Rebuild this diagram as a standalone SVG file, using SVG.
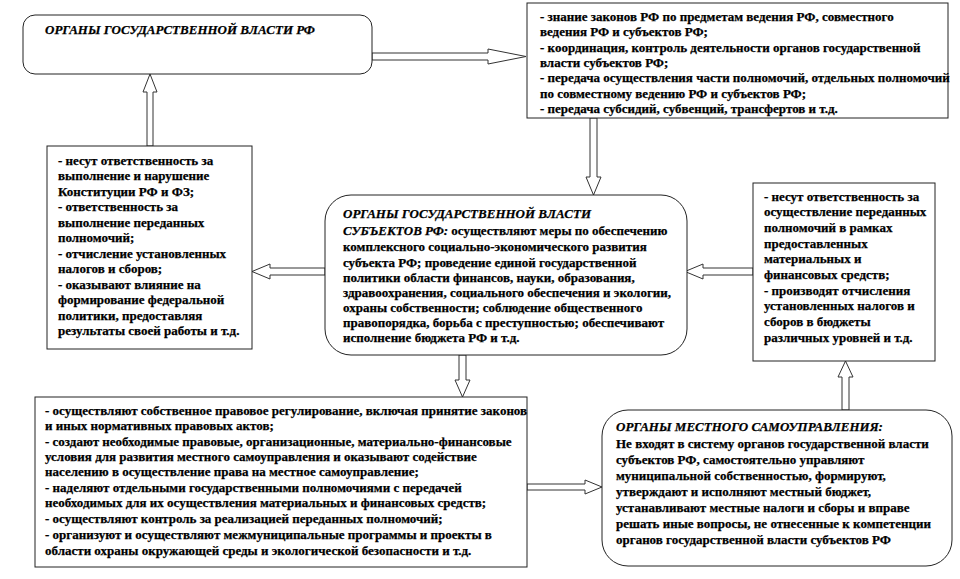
<svg xmlns="http://www.w3.org/2000/svg" width="960" height="579" viewBox="0 0 960 579">
<style>
.box{fill:#fff;stroke:#222;stroke-width:1}
.arr{fill:#fff;stroke:#333;stroke-width:1;stroke-linejoin:miter}
text{font-family:'Liberation Serif','Times New Roman','DejaVu Serif',serif;font-size:13px;font-weight:bold;fill:#000;stroke:#000;stroke-width:0.25}
.h{font-style:italic}
</style>
<rect width="960" height="579" fill="#fff"/>
<g id="connectors">
<polygon class="arr" points="372,53 488,53 488,49 526,56.5 488,64 488,60 372,60"/>
<polygon class="arr" points="147,146 147,92 143,92 150,74 157,92 153,92 153,146"/>
<polygon class="arr" points="590,118 590,177 586,177 593.5,195 601,177 597,177 597,118"/>
<polygon class="arr" points="325,268 270,268 270,264 252,271.5 270,279 270,275 325,275"/>
<polygon class="arr" points="753,268 703,268 703,264 685,271.5 703,279 703,275 753,275"/>
<polygon class="arr" points="459,355 459,380 455,380 462.5,397 470,380 466,380 466,355"/>
<polygon class="arr" points="527,484 585,484 585,480 602,487 585,494 585,490 527,490"/>
<polygon class="arr" points="842,410 842,377 838,377 845.5,361 853,377 849,377 849,410"/>
</g>
<g id="node-rf">
<rect class="box" x="23" y="15" width="349" height="59" rx="12"/>
<text class="h" x="45" y="34">ОРГАНЫ ГОСУДАРСТВЕННОЙ  ВЛАСТИ РФ</text>
</g>
<g id="node-rf-functions">
<rect class="box" x="527" y="3" width="421" height="115"/>
<text x="540" y="21">- знание законов РФ по предметам ведения РФ, совместного</text>
<text x="540" y="36">ведения РФ и субъектов РФ;</text>
<text x="540" y="52">- координация, контроль деятельности органов государственной</text>
<text x="540" y="67">власти субъектов РФ;</text>
<text x="540" y="82">- передача осуществления части полномочий, отдельных полномочий</text>
<text x="540" y="98">по совместному ведению РФ и субъектов РФ;</text>
<text x="540" y="113">- передача субсидий, субвенций, трансфертов и т.д.</text>
</g>
<g id="node-subj-duties">
<rect class="box" x="47" y="146" width="205" height="203"/>
<text x="58" y="164.5">- несут ответственность за</text>
<text x="58" y="180">выполнение и нарушение</text>
<text x="58" y="195.5">Конституции РФ и ФЗ;</text>
<text x="58" y="211">- ответственность за</text>
<text x="58" y="226.5">выполнение переданных</text>
<text x="58" y="242">полномочий;</text>
<text x="58" y="257.5">- отчисление установленных</text>
<text x="58" y="273">налогов и сборов;</text>
<text x="58" y="288.5">- оказывают влияние на</text>
<text x="58" y="304">формирование федеральной</text>
<text x="58" y="319.5">политики, предоставляя</text>
<text x="58" y="335">результаты своей работы и т.д.</text>
</g>
<g id="node-subj">
<rect class="box" x="325" y="195" width="362" height="160" rx="26"/>
<text class="h" x="343" y="218">ОРГАНЫ ГОСУДАРСТВЕННОЙ  ВЛАСТИ</text>
<text x="343" y="235"><tspan class="h">СУБЪЕКТОВ  РФ:</tspan> осуществляют меры по обеспечению</text>
<text x="343" y="251">комплексного социально-экономического развития</text>
<text x="343" y="267">субъекта РФ; проведение единой государственной</text>
<text x="343" y="282">политики области финансов, науки, образования,</text>
<text x="343" y="297">здравоохранения, социального обеспечения и экологии,</text>
<text x="343" y="312">охраны собственности; соблюдение общественного</text>
<text x="343" y="327">правопорядка, борьба с преступностью; обеспечивают</text>
<text x="343" y="342">исполнение бюджета РФ и т.д.</text>
</g>
<g id="node-local-duties">
<rect class="box" x="753" y="183" width="182" height="178"/>
<text x="764" y="200.5">- несут ответственность за</text>
<text x="764" y="216">осуществление переданных</text>
<text x="764" y="232">полномочий в рамках</text>
<text x="764" y="247.5">предоставленных</text>
<text x="764" y="263">материальных и</text>
<text x="764" y="279">финансовых средств;</text>
<text x="764" y="294.5">- производят отчисления</text>
<text x="764" y="310">установленных налогов и</text>
<text x="764" y="326">сборов в бюджеты</text>
<text x="764" y="341.5">различных уровней и т.д.</text>
</g>
<g id="node-subj-local">
<rect class="box" x="35" y="397" width="492" height="170"/>
<text x="45" y="415">- осуществляют собственное правовое регулирование, включая принятие законов</text>
<text x="45" y="430">и иных нормативных правовых актов;</text>
<text x="45" y="446">- создают необходимые правовые, организационные, материально-финансовые</text>
<text x="45" y="461">условия для развития местного самоуправления и оказывают содействие</text>
<text x="45" y="476">населению в осуществление права на местное самоуправление;</text>
<text x="45" y="492">- наделяют отдельными государственными полномочиями с передачей</text>
<text x="45" y="507">необходимых для их осуществления материальных и финансовых средств;</text>
<text x="45" y="523">- осуществляют контроль за реализацией переданных полномочий;</text>
<text x="45" y="539">- организуют и осуществляют межмуниципальные программы и проекты в</text>
<text x="45" y="555">области охраны окружающей среды и экологической безопасности и т.д.</text>
</g>
<g id="node-local">
<rect class="box" x="602" y="410" width="350" height="156" rx="26"/>
<text class="h" x="616" y="431">ОРГАНЫ МЕСТНОГО САМОУПРАВЛЕНИЯ:</text>
<text x="616" y="448">Не входят в систему органов государственной власти</text>
<text x="616" y="464">субъектов РФ, самостоятельно управляют</text>
<text x="616" y="480">муниципальной собственностью, формируют,</text>
<text x="616" y="496">утверждают и исполняют местный бюджет,</text>
<text x="616" y="512">устанавливают местные налоги и сборы и вправе</text>
<text x="616" y="528">решать иные вопросы, не отнесенные к компетенции</text>
<text x="616" y="544">органов государственной власти субъектов РФ</text>
</g>
</svg>
